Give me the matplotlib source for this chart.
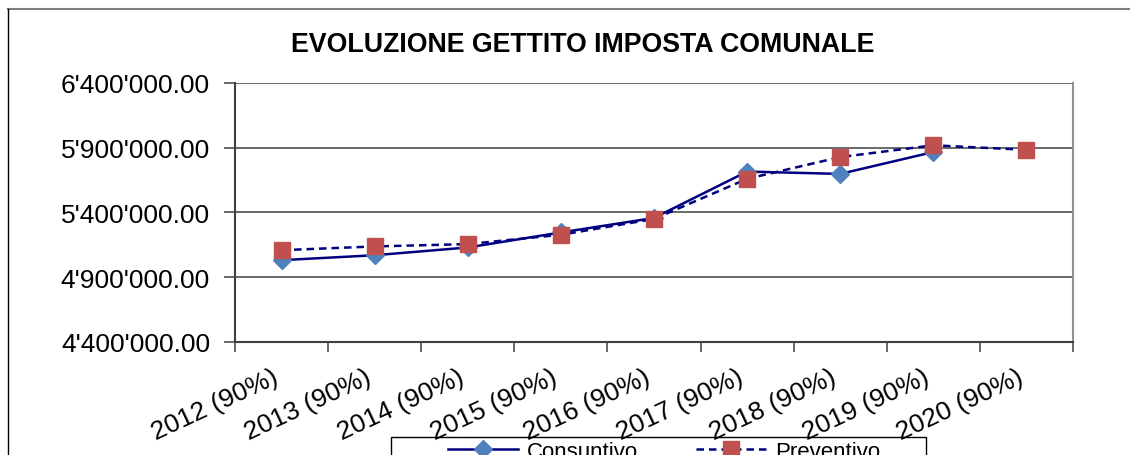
from matplotlib import pyplot as plt
from matplotlib.lines import Line2D
from matplotlib.patches import Rectangle
from matplotlib.ticker import FuncFormatter, FixedLocator
import numpy as np

plt.rcParams['font.family'] = ['Liberation Sans', 'DejaVu Sans']

# categories and series
anni = ['2012 (90%)', '2013 (90%)', '2014 (90%)', '2015 (90%)', '2016 (90%)',
        '2017 (90%)', '2018 (90%)', '2019 (90%)', '2020 (90%)']
consuntivo = [5032000, 5070000, 5130000, 5246000, 5358000,
              5716000, 5698000, 5867000, np.nan]
preventivo = [5109000, 5138000, 5156000, 5228000, 5350000,
              5660000, 5828000, 5919000, 5884000]

fig = plt.figure(figsize=(11.3, 4.56), dpi=100)
ax = fig.add_axes([235/1130, 1-343/456, (1073-235)/1130, (343-84)/456])

x = np.arange(len(anni))
ax.plot(x, consuntivo, color='#000080', lw=1.8, marker='D', ms=9,
        mfc='#4F81BD', mec='#4F81BD', label='Consuntivo', zorder=3)
ax.plot(x, preventivo, color='#000080', lw=1.8, ls=(0, (3, 2)), marker='s', ms=11,
        mfc='#C0504D', mec='#C0504D', label='Preventivo', zorder=4)

ax.set_xlim(-0.5, len(anni) - 0.5)
ax.set_ylim(4400000, 6400000)
ax.set_yticks(np.arange(4400000, 6400001, 500000))
ax.yaxis.set_major_formatter(FuncFormatter(lambda v, p: f"{v:,.2f}".replace(',', "'")))
ax.yaxis.grid(True, color='#505050', lw=1.2)
ax.set_axisbelow(True)

ax.set_xticks(x)
ax.set_xticklabels(anni, rotation=25, ha='right', va='top')
ax.xaxis.set_minor_locator(FixedLocator(np.arange(-0.5, len(anni), 1)))
ax.tick_params(axis='x', which='major', length=0, pad=16, labelsize=19)
ax.tick_params(axis='x', which='minor', length=7, width=1.2, color='#505050')
ax.tick_params(axis='y', length=8, width=1.2, color='#505050', labelsize=19, pad=10)

for s in ['left', 'bottom']:
    ax.spines[s].set_color('#404040')
    ax.spines[s].set_linewidth(1.5)
ax.spines['right'].set_color('#909090')
ax.spines['right'].set_linewidth(1.5)
ax.spines['top'].set_visible(False)

fig.text(583/1130, 1-45/456, 'EVOLUZIONE GETTITO IMPOSTA COMUNALE',
         ha='center', va='center', fontsize=19.3, fontweight='bold')

# outer chart frame
fig.add_artist(Line2D([8/1130, 1], [1-10/456, 1-10/456], color='#808080', lw=1.5))
fig.add_artist(Line2D([8/1130, 8/1130], [0, 1-10/456], color='black', lw=1))

# legend box (cut by the bottom edge, as in the original)
fig.add_artist(Rectangle((391/1130, -0.05), (926-391)/1130, 1-438/456+0.05,
                         transform=fig.transFigure, fill=False, ec='black', lw=1))
fig.legend(loc='upper left', bbox_to_anchor=(448/1130, 1-442/456), ncol=2,
           fontsize=16, frameon=False, handlelength=3.15, handletextpad=0.4,
           columnspacing=2.6, borderaxespad=0, borderpad=0)

plt.savefig('out.png', dpi=100)
